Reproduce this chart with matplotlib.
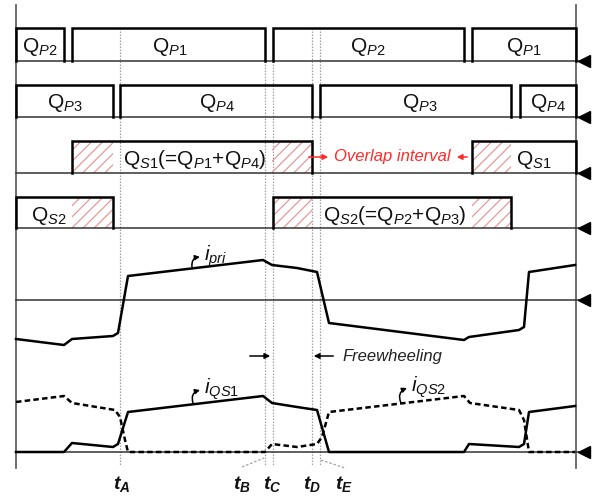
import matplotlib
matplotlib.use("Agg")
import matplotlib.pyplot as plt
from matplotlib.patches import Rectangle

plt.rcParams['font.family'] = ['Liberation Sans', 'DejaVu Sans']
plt.rcParams['mathtext.fontset'] = 'custom'
plt.rcParams['mathtext.rm'] = 'Liberation Sans'
plt.rcParams['mathtext.it'] = 'Liberation Sans:italic'
plt.rcParams['mathtext.bf'] = 'Liberation Sans:italic:bold'
plt.rcParams['hatch.linewidth'] = 0.9

# time axis (same units as the horizontal scale of the drawing)
t_start, t_end = 16, 576

# gate signals: on-intervals
gates = {
    'QP2': [(16, 64), (273, 464)],
    'QP1': [(72, 265), (472, 576)],
    'QP3': [(16, 113), (320, 511)],
    'QP4': [(120, 312), (520, 576)],
    'QS1': [(72, 312), (472, 576)],
    'QS2': [(16, 113), (273, 511)],
}
# overlap (hatched) intervals
overlap_s1 = [(72, 113), (272, 312), (472, 511)]
overlap_s2 = [(72, 113), (273, 312), (472, 511)]

# switching instants
t_marks = [120, 265, 273, 312, 320]
t_names = ['A', 'B', 'C', 'D', 'E']
t_label_x = [122, 242, 272, 312, 344]

# primary current
t_pri = [16, 64, 72, 113, 118, 128, 263, 272, 297, 317, 329, 464, 469, 519, 524, 529, 575]
i_pri = [-39, -45, -39, -36, -33, 24, 40, 35, 32, 28, -23, -40, -37, -30, -27, 28, 35]

# secondary switch currents
t_qs1 = [16, 64, 72, 113, 118, 128, 263, 272, 297, 317, 329, 464, 469, 519, 524, 529, 575]
i_qs1 = [0, 0, 9, 5, 8, 40, 56, 49, 45, 42, 0, 0, 8, 5, 8, 40, 46]
t_qs2 = [16, 64, 72, 115, 120, 125, 128, 265, 272, 297, 317, 322, 329, 464, 470, 519, 524, 529, 575]
i_qs2 = [50, 56, 49, 42, 35, 12, 0, 0, 8, 5, 8, 15, 40, 56, 49, 42, 32, 0, 0]

# row geometry: (baseline, top)
rows = {'QP': (61, 28), 'QP34': (117, 85), 'QS1': (173, 141), 'QS2': (228, 197)}
y_pri0 = 300
y_qs0 = 452

fig = plt.figure(figsize=(5.97, 4.97), dpi=100)
ax = fig.add_axes([0, 0, 1, 1])
ax.set_xlim(0, 597)
ax.set_ylim(497, 0)
ax.axis('off')

# dotted time markers
for t in t_marks:
    ax.plot([t, t], [28, 466], color='#a0a0a0', lw=0.9, ls=(0, (1.2, 1.2)), zorder=1)

# frame lines
ax.plot([t_start, t_start], [5, 468], color='#555555', lw=1.2, zorder=2)
ax.plot([t_end, t_end], [5, 468], color='#555555', lw=1.2, zorder=2)

# hatched overlap areas
for ivs, key in [(overlap_s1, 'QS1'), (overlap_s2, 'QS2')]:
    y0, y1 = rows[key]
    for a, b in ivs:
        ax.add_patch(Rectangle((a, y1), b - a, y0 - y1, facecolor='none',
                               edgecolor='#e69a9a', lw=0, hatch='///', zorder=2))


def pulses(ivs, key):
    y0, y1 = rows[key]
    for a, b in ivs:
        ax.plot([a, a, b, b], [y0, y1, y1, y0], color='black', lw=1.8,
                solid_joinstyle='miter', zorder=3)


pulses(gates['QP2'], 'QP')
pulses(gates['QP1'], 'QP')
pulses(gates['QP3'], 'QP34')
pulses(gates['QP4'], 'QP34')
pulses(gates['QS1'], 'QS1')
pulses(gates['QS2'], 'QS2')

# baselines with arrow markers
for yb in [rows['QP'][0], rows['QP34'][0], rows['QS1'][0], rows['QS2'][0], y_pri0, y_qs0]:
    ax.plot([t_start, 580], [yb, yb], color='#333333', lw=1.1, zorder=2)
    ax.plot([584], [yb], marker='<', ms=9, color='black', zorder=4)

# currents
ax.plot(t_pri, [y_pri0 - v for v in i_pri], color='black', lw=1.8, zorder=4)
ax.plot(t_qs1, [y_qs0 - v for v in i_qs1], color='black', lw=1.8, zorder=4)
ax.plot(t_qs2, [y_qs0 - v for v in i_qs2], color='black', lw=1.8,
        ls=(0, (2.2, 1.3)), zorder=4)

# gate labels
fs = 15
labels = [
    (40, 52, r'Q$_{\mathit{P2}}$'), (170, 52, r'Q$_{\mathit{P1}}$'),
    (368, 52, r'Q$_{\mathit{P2}}$'), (524, 52, r'Q$_{\mathit{P1}}$'),
    (65, 108, r'Q$_{\mathit{P3}}$'), (217, 108, r'Q$_{\mathit{P4}}$'),
    (420, 108, r'Q$_{\mathit{P3}}$'), (548, 108, r'Q$_{\mathit{P4}}$'),
    (195, 165, r'Q$_{\mathit{S1}}$(=Q$_{\mathit{P1}}$+Q$_{\mathit{P4}}$)'),
    (534, 165, r'Q$_{\mathit{S1}}$'),
    (49, 221, r'Q$_{\mathit{S2}}$'),
    (395, 221, r'Q$_{\mathit{S2}}$(=Q$_{\mathit{P2}}$+Q$_{\mathit{P3}}$)'),
]
for x, y, s in labels:
    ax.text(x, y, s, fontsize=fs, ha='center', va='baseline', color='#111111', zorder=5)

# overlap interval
red = '#ff2a2a'
ax.text(392, 157, 'Overlap interval', color=red, fontsize=12, style='italic',
        ha='center', va='center', zorder=5)
ax.annotate('', xy=(331, 157), xytext=(306, 157),
            arrowprops=dict(arrowstyle='-|>', color=red, lw=1.1, mutation_scale=8))
ax.annotate('', xy=(454, 157), xytext=(470, 157),
            arrowprops=dict(arrowstyle='-|>', color=red, lw=1.1, mutation_scale=8))

# freewheeling
ax.annotate('', xy=(273, 356), xytext=(247, 356),
            arrowprops=dict(arrowstyle='-|>', color='black', lw=1.1, mutation_scale=8))
ax.annotate('', xy=(311, 356), xytext=(336, 356),
            arrowprops=dict(arrowstyle='-|>', color='black', lw=1.1, mutation_scale=8))
ax.text(342, 356, 'Freewheeling', fontsize=12, style='italic', ha='left', va='center',
        color='#222222')

# current labels with hook arrows
for (xa, ya), (xt, yt), s in [((192, 267), (204, 256), r'$\mathit{i}_{\mathit{pri}}$'),
                              ((193, 403), (204, 389), r'$\mathit{i}_{\mathit{QS1}}$'),
                              ((401, 403), (411, 387), r'$\mathit{i}_{\mathit{QS2}}$')]:
    ax.annotate('', xy=(xt - 4, yt + 1), xytext=(xa, ya),
                arrowprops=dict(arrowstyle='-|>', color='black', lw=1.1, mutation_scale=7,
                                connectionstyle='arc3,rad=-0.5', shrinkA=0, shrinkB=0))
    ax.text(xt, yt, s, fontsize=15, ha='left', va='center', color='#111111')

# time labels
for x, n in zip(t_label_x, t_names):
    ax.text(x, 484, r'$\mathbf{t_{%s}}$' % n, fontsize=14, ha='center', va='center',
            color='#111111')
ax.plot([242, 264], [467, 458], color='#a0a0a0', lw=0.9, ls=(0, (2, 1.5)))
ax.plot([321, 345], [460, 468], color='#a0a0a0', lw=0.9, ls=(0, (2, 1.5)))

fig.savefig('out.png', dpi=100)
